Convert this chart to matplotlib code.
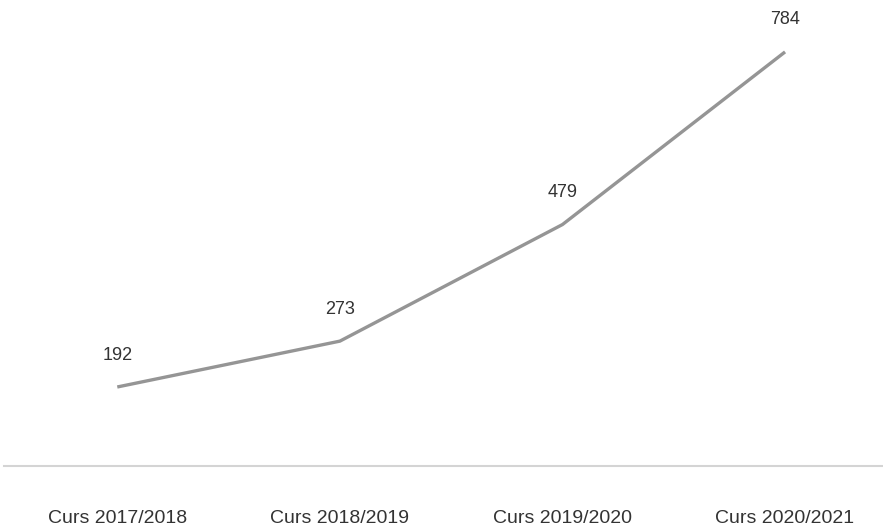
import matplotlib
matplotlib.use("Agg")
import matplotlib.pyplot as plt

categories = ["Curs 2017/2018", "Curs 2018/2019", "Curs 2019/2020", "Curs 2020/2021"]
values = [192, 273, 479, 784]

plt.rcParams["font.family"] = ["Liberation Sans", "DejaVu Sans"]

fig = plt.figure(figsize=(8.83, 5.31), dpi=100)
ax = fig.add_axes([0.005, 0.1224, 0.995, 0.8776])

x = list(range(len(values)))
ax.plot(x, values, color="#959595", linewidth=2.4, solid_capstyle="butt")

for xi, v in zip(x, values):
  ax.annotate(str(v), (xi, v), xytext=(0, 23), textcoords="offset points",
              ha="center", va="center", fontsize=13, color="#333333")

ax.set_xlim(-0.507, 3.44)
ax.set_ylim(52.4, 875.7)
ax.set_xticks(x)
ax.set_xticklabels(categories, fontsize=14, color="#333333")
ax.tick_params(axis="x", length=0, pad=32)
ax.set_yticks([])

for side in ["top", "right", "left"]:
  ax.spines[side].set_visible(False)
ax.spines["bottom"].set_color("#d4d4d4")
ax.spines["bottom"].set_linewidth(1.5)

fig.savefig("out.png", dpi=100)
